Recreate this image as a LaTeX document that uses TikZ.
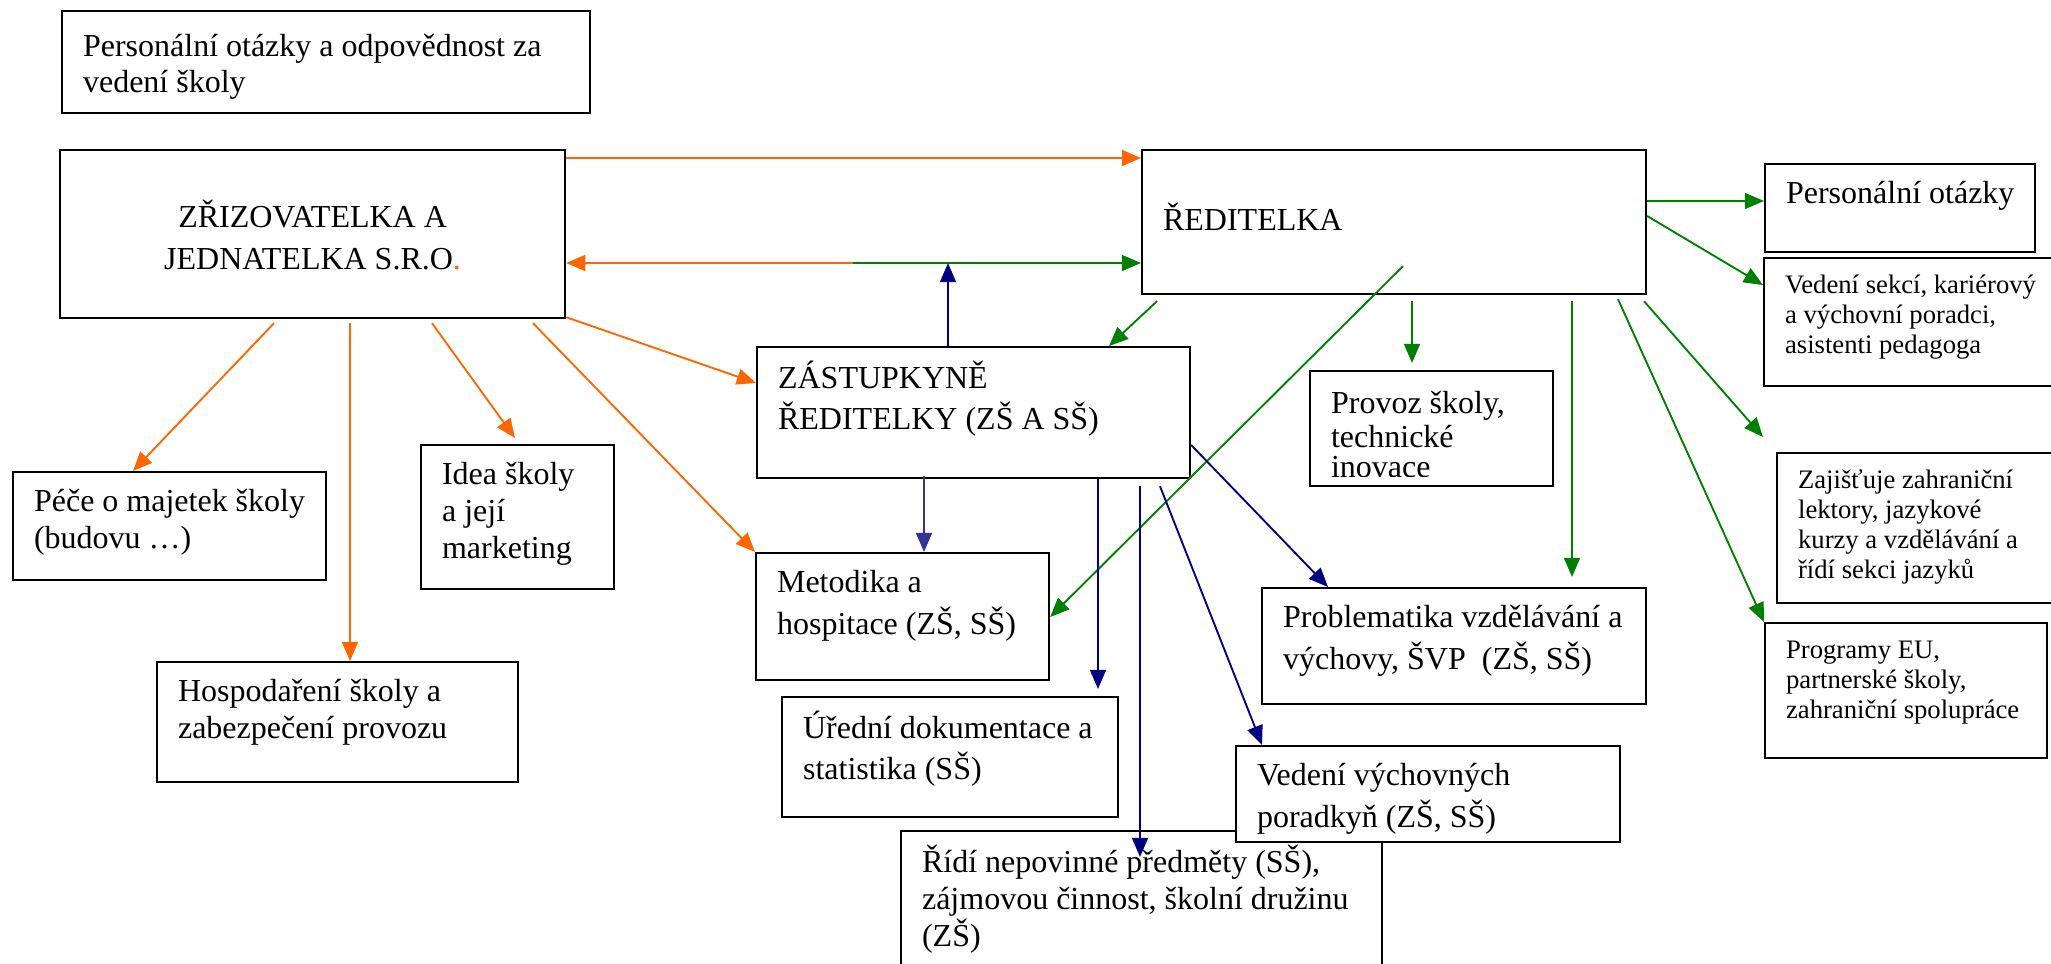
\documentclass[tikz,border=0pt]{standalone}
\usepackage{fontspec}
\setmainfont{Liberation Serif}
\usepackage{tikz}
\usetikzlibrary{arrows.meta}
\usetikzlibrary{calc}
\definecolor{orng}{HTML}{FF6600}
\definecolor{grn}{HTML}{008000}
\definecolor{nvy}{HTML}{000080}
\definecolor{lblue}{HTML}{333399}
\newlength{\pxu}
\setlength{\pxu}{0.01318cm}
\newcommand{\cellbox}[4][t]{\parbox[c][\dimexpr#3\pxu-28\pxu\relax][#1]{\dimexpr#2\pxu-21\pxu\relax}{\raggedright\strut#4}\hspace*{-21\pxu}}

\begin{document}
\begin{tikzpicture}[x=0.01318cm, y=-0.01318cm,
  box/.style={draw, line width=0.8pt, fill=white, anchor=north west, inner xsep=0.277cm, inner ysep=0.185cm, font=\fontsize{12}{13.8}\selectfont},
  smallbox/.style={box, font=\fontsize{10}{11.3}\selectfont},
  con/.style={line width=0.7pt, ->},
  >={Triangle[length=7.2pt,width=6pt]}]
\useasboundingbox (0,0) rectangle (2051,963);

\node[box] (pers) at (61,10) {\cellbox{528}{102}{\rule{0pt}{11.6pt}Personální otázky a odpovědnost za\\vedení školy}};
\node[box, font=\fontsize{12}{15.7}\selectfont] (zriz) at (59,149) {\parbox[c][140\pxu][c]{463\pxu}{\centering\strut ZŘIZOVATELKA A\\JEDNATELKA S.R.O{\color{orng}.}}};
\node[box] (redit) at (1141,149) {\cellbox[c]{504}{144}{ŘEDITELKA}};
\node[box] (zast) at (756,346) {\cellbox{433}{131}{ZÁSTUPKYNĚ\\ŘEDITELKY (ZŠ A SŠ)}};
\node[box] (pece) at (12,471) {\cellbox{313}{108}{Péče o majetek školy\\(budovu …)}};
\node[box] (idea) at (420,444) {\cellbox{193}{144}{Idea školy\\a její\\marketing}};
\node[box] (hosp) at (156,661) {\cellbox{361}{120}{Hospodaření školy a\\zabezpečení provozu}};
\node[box] (metod) at (755,552) {\cellbox{293}{127}{Metodika a\\hospitace (ZŠ, SŠ)}};
\node[box] (ured) at (781,696) {\cellbox{336}{120}{Úřední dokumentace a\\statistika (SŠ)}};
\node[box] (ridi) at (900,830) {\cellbox{481}{160}{Řídí nepovinné předměty (SŠ),\\zájmovou činnost, školní družinu\\(ZŠ)}};
\node[box] (prob) at (1261,587) {\cellbox{384}{116}{Problematika vzdělávání a\\výchovy, ŠVP\ \ (ZŠ, SŠ)}};
\node[box] (vych) at (1235,745) {\cellbox{384}{96}{Vedení výchovných\\poradkyň (ZŠ, SŠ)}};
\node[box, font=\fontsize{12}{11.3}\selectfont] (prov) at (1309,370) {\cellbox{243}{115}{\rule{0pt}{10.5pt}Provoz školy,\\technické\\inovace}};
% last line of the box is cut off
\fill[white] ($(prov.south west)+(3,-10)$) rectangle ($(prov.south east)+(-3,-3)$);
\node[box] (perso) at (1764,163) {\cellbox{270}{88}{Personální otázky}};
\node[smallbox] (sekce) at (1763,257) {\cellbox{310}{128}{Vedení sekcí, kariérový\\a výchovní poradci,\\asistenti pedagoga}};
\node[smallbox] (zaj) at (1776,452) {\cellbox{300}{150}{Zajišťuje zahraniční\\lektory, jazykové\\kurzy a vzdělávání a\\řídí sekci jazyků}};
\node[smallbox] (prog) at (1764,622) {\cellbox{282}{135}{Programy EU,\\partnerské školy,\\zahraniční spolupráce}};

% zrizovatelka
\coordinate (join) at (853,263);
\draw [con,orng] ($(zriz.north east)+(0,9)$) -- ($(redit.north west)+(0,9)$);
\draw [con,orng] (join) -- (zriz.east |- join);
\draw [con,grn] (join) -- (redit.west |- join);
\draw [con,orng] ($(zriz.south west)+(215,4)$) -- ($(pece.north west)+(121,0)$);
\draw [con,orng] ($(zriz.south west)+(291,4)$) -- ($(hosp.north west)+(194,0)$);
\draw [con,orng] ($(zriz.south west)+(373,4)$) -- ($(idea.north west)+(95,-6)$);
\draw [con,orng] ($(zriz.south west)+(474,4)$) -- (metod.north west);
\draw [con,orng] ($(zriz.south east)+(0,-2)$) -- ($(zast.north west)+(0,37)$);

% reditelka
\draw [con,grn] ($(redit.north east)+(0,52)$) -- ($(perso.north west)+(0,38)$);
\draw [con,grn] ($(redit.north east)+(0,67)$) -- ($(sekce.north west)+(0,28)$);
\draw [con,grn] ($(redit.south west)+(16,6)$) -- ($(zast.north west)+(353,0)$);
\draw [con,grn] ($(redit.south west)+(262,-29)$) -- ($(metod.north east)+(0,65)$);
\draw [con,grn] ($(redit.south west)+(271,6)$) -- ($(prov.north west)+(103,-7)$);
\draw [con,grn] ($(redit.south west)+(431,6)$) -- ($(prob.north west)+(311,-10)$);
\draw [con,grn] ($(redit.south west)+(477,4)$) -- (prog.north west);
\draw [con,grn] ($(redit.south west)+(503,6)$) -- ($(zaj.north west)+(-13,-15)$);

% zastupkyne
\draw [con,nvy] ($(zast.north west)+(192,0)$) coordinate (nup) -- (nup |- join);
\draw [con,lblue] ($(zast.south west)+(168,-3)$) -- ($(metod.north west)+(169,0)$);
\draw [con,nvy] ($(zast.south west)+(342,0)$) -- ($(ured.north west)+(317,-7)$);
\draw [con,nvy] ($(zast.south west)+(384,7)$) -- ($(ridi.north west)+(240,27)$);
\draw [con,nvy] ($(zast.south west)+(404,7)$) -- ($(vych.north west)+(27,0)$);
\draw [con,nvy] ($(zast.north east)+(0,99)$) -- ($(prob.north west)+(67,0)$);
\end{tikzpicture}
\end{document}
